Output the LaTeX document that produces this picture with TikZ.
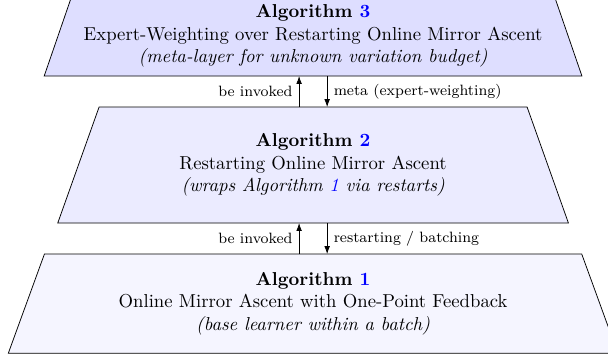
\documentclass[tikz,border=0pt]{standalone}
\usepackage{xcolor}
\usepackage{tikz}
\usetikzlibrary{shapes.geometric,positioning,arrows.meta}

\begin{document}
\begin{tikzpicture}[
  layer/.style={draw=black, trapezium, trapezium angle=70, trapezium stretches=true,
    align=center, outer sep=0pt, inner sep=3pt},
  flow/.style={-{Latex[length=4.2pt,width=3pt]}, thin},
  tag/.style={font=\footnotesize}
]

% Area visibile (la figura e' tagliata ai bordi)
\useasboundingbox (-167.4pt,19.25pt) rectangle (157.7pt,-173.25pt);

% Livello superiore: algoritmo 3
\node[layer, fill=blue!13, minimum width=288.8pt, minimum height=42.8pt] (meta) at (0,0)
  {\textbf{Algorithm \textcolor{blue}{3}}\\
   Expert-Weighting over Restarting Online Mirror Ascent\\
   \textit{(meta-layer for unknown variation budget)}};

% Livello intermedio: algoritmo 2
\node[layer, fill=blue!8, minimum width=273.8pt, minimum height=62pt,
  below=16.6pt of meta] (restart)
  {\textbf{Algorithm \textcolor{blue}{2}}\\
   Restarting Online Mirror Ascent\\
   \textit{(wraps Algorithm \textcolor{blue}{1} via restarts)}};

% Livello inferiore: algoritmo 1
\node[layer, fill=blue!4, minimum width=326pt, minimum height=53pt,
  below=16.6pt of restart] (base)
  {\textbf{Algorithm \textcolor{blue}{1}}\\
   Online Mirror Ascent with One-Point Feedback\\
   \textit{(base learner within a batch)}};

% Frecce tra algoritmo 3 e algoritmo 2
\draw[flow] ([xshift=-7.5pt]restart.north) -- ([xshift=-7.5pt]meta.south)
  node[midway, left, tag] {be invoked};
\draw[flow] ([xshift=7.5pt]meta.south) -- ([xshift=7.5pt]restart.north)
  node[midway, right, tag] {meta (expert-weighting)};

% Frecce tra algoritmo 2 e algoritmo 1
\draw[flow] ([xshift=-7.5pt]base.north) -- ([xshift=-7.5pt]restart.south)
  node[midway, left, tag] {be invoked};
\draw[flow] ([xshift=7.5pt]restart.south) -- ([xshift=7.5pt]base.north)
  node[midway, right, tag] {restarting / batching};

\end{tikzpicture}
\end{document}
